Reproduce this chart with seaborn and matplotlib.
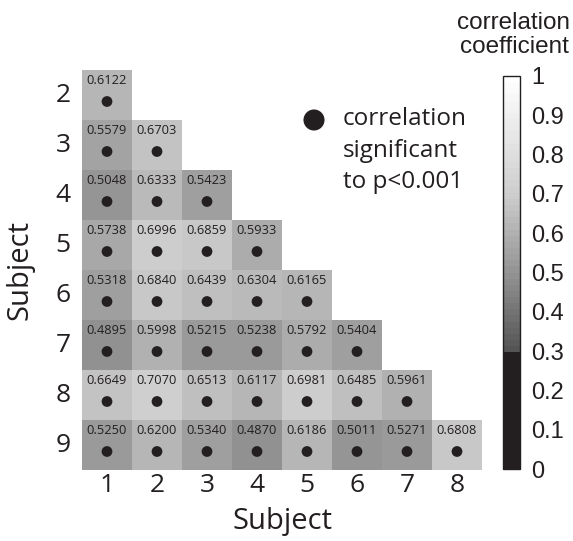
import numpy as np
import pandas as pd
import matplotlib
matplotlib.use("Agg")
import matplotlib.pyplot as plt
from matplotlib.colors import ListedColormap
import seaborn as sns

# Pairwise correlation between subjects (lower triangle, row subject vs column subject)
row_subjects = [2, 3, 4, 5, 6, 7, 8, 9]
col_subjects = [1, 2, 3, 4, 5, 6, 7, 8]
r_s2 = [0.6122]
r_s3 = [0.5579, 0.6703]
r_s4 = [0.5048, 0.6333, 0.5423]
r_s5 = [0.5738, 0.6996, 0.6859, 0.5933]
r_s6 = [0.5318, 0.6840, 0.6439, 0.6304, 0.6165]
r_s7 = [0.4895, 0.5998, 0.5215, 0.5238, 0.5792, 0.5404]
r_s8 = [0.6649, 0.7070, 0.6513, 0.6117, 0.6981, 0.6485, 0.5961]
r_s9 = [0.5250, 0.6200, 0.5340, 0.4870, 0.6186, 0.5011, 0.5271, 0.6808]
cbar_ticks = [0, 0.1, 0.2, 0.3, 0.4, 0.5, 0.6, 0.7, 0.8, 0.9, 1]
cbar_ticklabels = ["0", "0.1", "0.2", "0.3", "0.4", "0.5", "0.6", "0.7", "0.8", "0.9", "1"]

rows = [r_s2, r_s3, r_s4, r_s5, r_s6, r_s7, r_s8, r_s9]
matrix = np.full((len(row_subjects), len(col_subjects)), np.nan)
for i, vals in enumerate(rows):
    matrix[i, :len(vals)] = vals
corr = pd.DataFrame(matrix, index=row_subjects, columns=col_subjects)
significant = corr.notna()

sns.set_theme(style="white")
main_font = ["Open Sans", "DejaVu Sans"]
bar_font = ["Liberation Sans", "DejaVu Sans"]
plt.rcParams["font.family"] = main_font
text_color = "#231f20"

# Stepped grey scale: flat near-black below 0.3, ramping up to white at 1
levels = np.linspace(0, 1, 64)
grey = np.interp(levels, [0.3, 0.5, 0.7, 1.0], [84, 147, 205, 255])
cmap_colors = np.column_stack([grey, grey, grey]) / 255.0
cmap_colors[levels < 0.3] = np.array([35, 31, 32]) / 255.0
cmap = ListedColormap(cmap_colors)

fig = plt.figure(figsize=(5.73, 5.41), dpi=100)
ax = fig.add_axes([82 / 573, 1 - 470 / 541, 400 / 573, 400 / 541])
cax = fig.add_axes([503 / 573, 1 - 469 / 541, 17 / 573, 393 / 541])

sns.heatmap(corr, ax=ax, cmap=cmap, vmin=0, vmax=1, mask=corr.isna(),
            cbar_ax=cax, linewidths=0, square=False,
            cbar_kws={"ticks": cbar_ticks})

# value labels and significance dots inside each cell
for i in range(corr.shape[0]):
    for j in range(corr.shape[1]):
        v = corr.iat[i, j]
        if np.isnan(v):
            continue
        ax.text(j + 0.5, i + 0.22, f"{v:.4f}", ha="center", va="center",
                fontsize=9.3, color=text_color)
        if significant.iat[i, j]:
            ax.scatter(j + 0.5, i + 0.63, s=60, color=text_color,
                       edgecolors="none", zorder=3)

ax.set_xticks(np.arange(len(col_subjects)) + 0.5)
ax.set_xticklabels(col_subjects, fontsize=19, color=text_color)
ax.set_yticks(np.arange(len(row_subjects)) + 0.5)
ax.set_yticklabels(row_subjects, fontsize=19, color=text_color, rotation=0)
ax.tick_params(axis="x", length=0, pad=2)
ax.tick_params(axis="y", length=0, pad=8)
ax.set_xlabel("Subject", fontsize=21, color=text_color, labelpad=7)
ax.set_ylabel("Subject", fontsize=21, color=text_color, labelpad=15)
for s in ax.spines.values():
    s.set_visible(False)

# significance key
ax.scatter([4.64], [1.0], s=230, color=text_color, edgecolors="none",
           clip_on=False, zorder=3)
ax.text(5.22, 0.74, "correlation\nsignificant\nto p<0.001", ha="left",
        va="top", fontsize=17.5, color=text_color, linespacing=1.42,
        transform=ax.transData)

# colourbar styling
cbar = ax.collections[0].colorbar
cbar.outline.set_edgecolor(text_color)
cbar.outline.set_linewidth(1.0)
cax.set_yticks(cbar_ticks)
cax.set_yticklabels(cbar_ticklabels)
cax.tick_params(axis="y", direction="in", left=True, right=True,
                labelleft=False, labelright=True, length=3, width=0.6,
                color="#555555", labelsize=17, labelcolor=text_color, pad=8)
for lab in cax.get_yticklabels():
    lab.set_family(bar_font)
fig.text(514 / 573, 1 - 35 / 541, "correlation\ncoefficient", ha="center",
         va="center", fontsize=17.5, color=text_color, family=bar_font,
         linespacing=1.15)

fig.savefig("out.png", dpi=100)
